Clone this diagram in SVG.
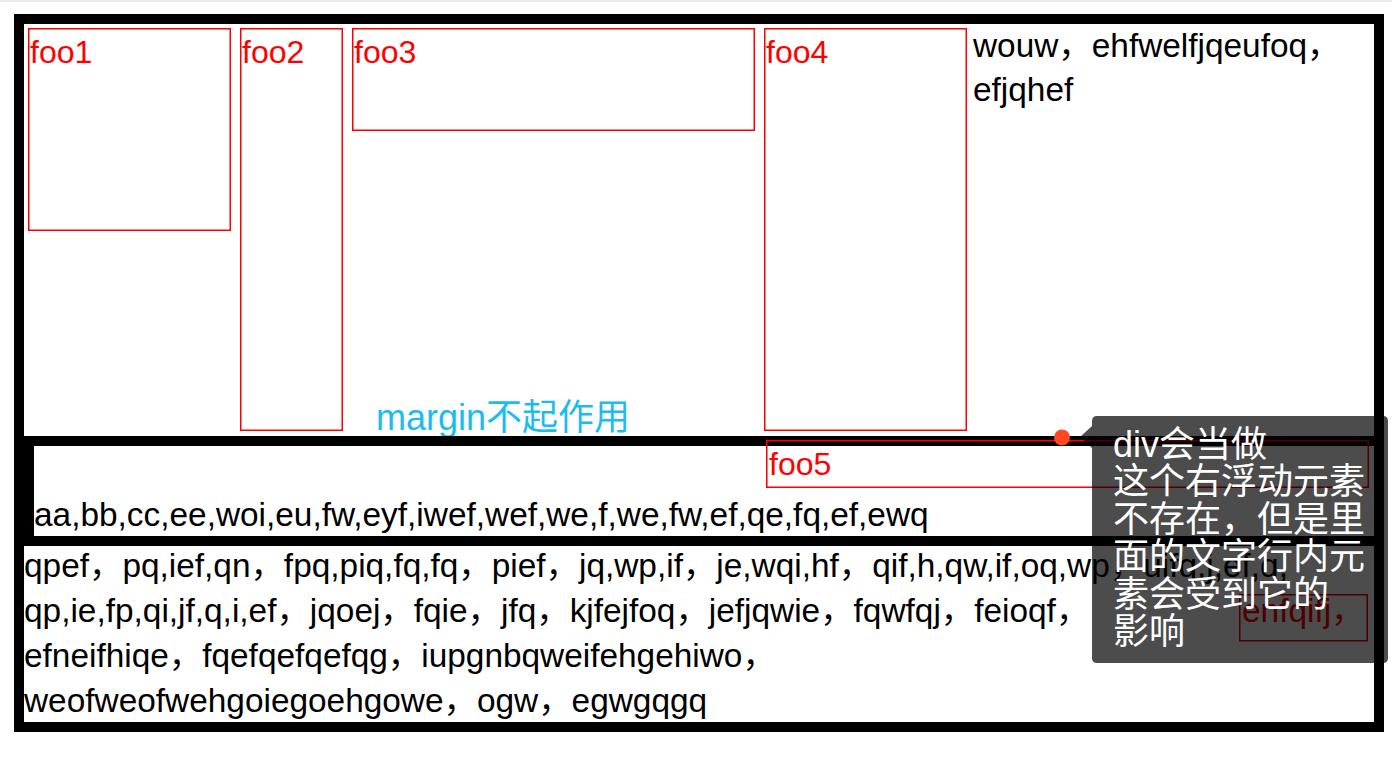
<svg xmlns="http://www.w3.org/2000/svg" width="1392" height="768" viewBox="0 0 1392 768">
<style>
.t{font-family:"Liberation Sans","Noto Sans CJK SC",sans-serif;font-size:33.4px;fill:#000}
.foo{font-family:"Liberation Sans","Noto Sans CJK SC",sans-serif;font-size:32px;fill:#ff0000}
.box{fill:none;stroke:#ff0000;stroke-width:1.5}
.band{fill:#000}
.tip{font-family:"Liberation Sans","Noto Sans CJK SC",sans-serif;font-size:36px;fill:#fff}
</style>
<rect x="0" y="0" width="1392" height="768" fill="#fff"/>
<rect x="0" y="0" width="1392" height="2" fill="#ebebeb"/>
<g id="outer">
<rect x="19" y="19" width="1360" height="708" fill="#fff" stroke="#000" stroke-width="10"/>
</g>
<g id="foo1"><rect class="box" x="28.75" y="28.75" width="201.5" height="201.5"/><text class="foo" x="30" y="63">foo1</text></g>
<g id="foo2"><rect class="box" x="240.75" y="28.75" width="101.5" height="401.5"/><text class="foo" x="242" y="63">foo2</text></g>
<g id="foo3"><rect class="box" x="352.75" y="28.75" width="401.5" height="101.5"/><text class="foo" x="354" y="63">foo3</text></g>
<g id="foo4"><rect class="box" x="764.75" y="28.75" width="201.5" height="401.5"/><text class="foo" x="766" y="63">foo4</text></g>
<g id="float-text">
<text class="t" x="973" y="57">wouw，ehfwelfjqeufoq，</text>
<text class="t" x="973" y="101">efjqhef</text>
</g>
<g id="margin-note"><text x="376" y="430" font-family="'Liberation Sans','Noto Sans CJK SC',sans-serif" font-size="36" fill="#1cbcf0">margin不起作用</text></g>
<g id="middle-div">
<rect class="band" x="24" y="436" width="1350" height="10"/>
<rect class="band" x="24" y="436" width="10" height="110"/>
<rect class="band" x="24" y="536" width="1350" height="10"/>
<text class="t" x="34" y="526">aa,bb,cc,ee,woi,eu,fw,eyf,iwef,wef,we,f,we,fw,ef,qe,fq,ef,ewq</text>
</g>
<g id="foo5"><rect class="box" x="766.75" y="440.75" width="601.5" height="46.5"/><text class="foo" x="769" y="475">foo5</text></g>
<g id="bottom-div">
<text class="t" x="24" y="577">qpef，pq,ief,qn，fpq,piq,fq,fq，pief，jq,wp,if，je,wqi,hf，qif,h,qw,if,oq,wp，uifq,j,ef,q,</text>
<text class="t" x="24" y="622">qp,ie,fp,qi,jf,q,i,ef，jqoej，fqie，jfq，kjfejfoq，jefjqwie，fqwfqj，feioqf，</text>
<g id="inline-span"><rect class="box" x="1239.75" y="594.75" width="127.5" height="46"/><text class="t" x="1242" y="622" fill="#ff0000" style="fill:#ff0000">enfqifj，</text></g>
<text class="t" x="24" y="667">efneifhiqe，fqefqefqefqg，iupgnbqweifehgehiwo，</text>
<text class="t" x="24" y="712">weofweofwehgoiegoehgowe，ogw，egwgqgq</text>
</g>
<g id="connectors">
<circle cx="1062" cy="437.5" r="8" fill="#ff4a21"/>
</g>
<g id="tooltip">
<path d="M1097,416 H1383 Q1388,416 1388,421 V658 Q1388,663 1383,663 H1097 Q1092,663 1092,658 V448 L1080,437 L1092,426 V421 Q1092,416 1097,416 Z" fill="#000" fill-opacity="0.7"/>
<text class="tip" x="1113" y="457">div会当做</text>
<text class="tip" x="1113" y="494.4">这个右浮动元素</text>
<text class="tip" x="1113" y="531.8">不存在，但是里</text>
<text class="tip" x="1113" y="569.2">面的文字行内元</text>
<text class="tip" x="1113" y="606.6">素会受到它的</text>
<text class="tip" x="1113" y="644">影响</text>
</g>
</svg>
